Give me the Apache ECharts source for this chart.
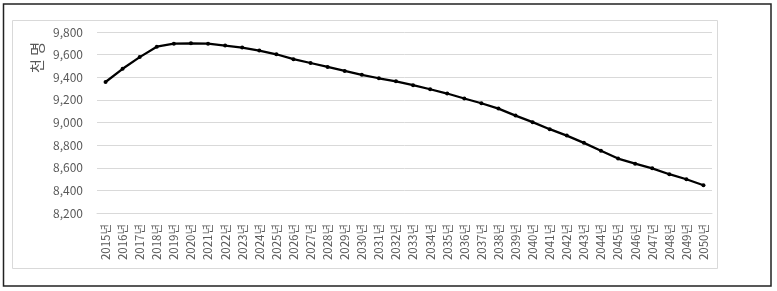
<!DOCTYPE html>
<html><head><meta charset="utf-8">
<script src="https://cdn.jsdelivr.net/npm/echarts@6/dist/echarts.min.js"></script>
<style>html,body{margin:0;padding:0;background:#fff}#c{width:777px;height:291px}</style>
</head><body><div id="c"></div>
<script>
var years = [];
for (var y = 2015; y <= 2050; y++) years.push(y + '년');
var population = [9358, 9475, 9578, 9670, 9697, 9700, 9697, 9680, 9662, 9636,
  9603, 9560, 9526, 9491, 9456, 9421, 9391, 9364, 9330, 9294,
  9256, 9212, 9170, 9123, 9061, 9003, 8941, 8884, 8820, 8751,
  8681, 8636, 8595, 8543, 8498, 8445];
var yTicks = {min: 8200, max: 9800, interval: 200};
var yName = '천 명';
var fontFam = '"Malgun Gothic","Noto Sans CJK KR","Noto Sans",sans-serif';
var chart = echarts.init(document.getElementById('c'));
chart.setOption({
  animation: false,
  backgroundColor: '#fff',
  grid: {left: 97, right: 65, top: 32, bottom: 78, containLabel: false},
  graphic: [
    {type: 'rect', shape: {x: 3.5, y: 4, width: 767.5, height: 282}, style: {fill: 'none', stroke: '#222', lineWidth: 1.5}, silent: true},
    {type: 'rect', shape: {x: 12.5, y: 20.5, width: 705, height: 248}, style: {fill: 'none', stroke: '#d9d9d9', lineWidth: 1}, silent: true},
    {type: 'text', x: 30, y: 73, rotation: Math.PI / 2, style: {text: yName, fill: '#595959', font: '15px ' + fontFam}, silent: true}
  ],
  xAxis: {
    type: 'category', data: years, boundaryGap: true,
    axisLine: {show: true, lineStyle: {color: '#d9d9d9'}},
    axisTick: {show: false},
    axisLabel: {rotate: 90, interval: 0, margin: 11, color: '#595959', fontSize: 11.5, fontFamily: fontFam}
  },
  yAxis: {
    type: 'value', min: yTicks.min, max: yTicks.max, interval: yTicks.interval,
    axisLine: {show: false}, axisTick: {show: false},
    splitLine: {lineStyle: {color: '#d9d9d9'}},
    axisLabel: {color: '#595959', fontSize: 12, margin: 14, fontFamily: fontFam,
      formatter: function (v) { return v.toLocaleString('en-US'); }}
  },
  series: [{
    type: 'line', data: population,
    lineStyle: {color: '#000', width: 2.25},
    itemStyle: {color: '#000'},
    symbol: 'circle', symbolSize: 4, showSymbol: true
  }]
});
</script></body></html>
